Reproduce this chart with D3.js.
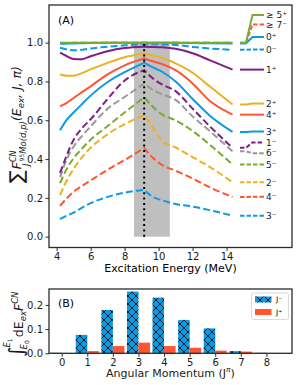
<!DOCTYPE html>
<html>
<head>
<meta charset="utf-8">
<script src="https://cdn.jsdelivr.net/npm/d3@7"></script>
<style>
  body { margin: 0; background: #fff; }
  svg { display: block; font-family: "DejaVu Sans", sans-serif; }
</style>
</head>
<body>
<div id="chart"></div>
<script>
// ---- Panel A data: cumulative fraction vs excitation energy (MeV) ----
const energies = [4.2, 4.6, 5, 5.5, 6, 7, 8, 9.15, 9.6, 10.2, 11, 12, 13, 14.35];
const peakIndex = 7;   // kink at the neutron separation energy

const ge5p = [1, 1, 1, 1, 1, 1, 1, 1, 1, 1, 1, 1, 1, 1];
const ge7m = [0.998, 0.998, 0.999, 0.999, 0.999, 1, 1, 1, 1, 1, 1, 1, 1, 1];
const j0p  = [0.994, 0.995, 0.996, 0.997, 0.998, 0.999, 0.999, 1, 1, 1, 0.999, 0.998, 0.997, 0.996];
const j0m  = [0.974, 0.965, 0.961, 0.963, 0.970, 0.979, 0.986, 0.992, 0.992, 0.991, 0.988, 0.978, 0.970, 0.963];
const j1p  = [0.948, 0.930, 0.916, 0.915, 0.930, 0.956, 0.972, 0.979, 0.978, 0.976, 0.968, 0.945, 0.910, 0.861];
const j2p  = [0.836, 0.830, 0.830, 0.843, 0.862, 0.896, 0.925, 0.944, 0.935, 0.922, 0.893, 0.845, 0.775, 0.681];
const j4p  = [0.672, 0.690, 0.715, 0.745, 0.775, 0.836, 0.883, 0.918, 0.905, 0.890, 0.858, 0.790, 0.700, 0.629];
const j3p  = [0.548, 0.603, 0.640, 0.684, 0.727, 0.797, 0.848, 0.896, 0.875, 0.850, 0.800, 0.710, 0.625, 0.540];
const j1m  = [0.328, 0.420, 0.500, 0.560, 0.605, 0.710, 0.805, 0.858, 0.820, 0.785, 0.750, 0.660, 0.570, 0.458];
const j6m  = [0.307, 0.400, 0.465, 0.520, 0.568, 0.660, 0.720, 0.790, 0.760, 0.735, 0.705, 0.620, 0.545, 0.440];
const j5m  = [0.276, 0.350, 0.405, 0.455, 0.500, 0.570, 0.640, 0.718, 0.675, 0.630, 0.600, 0.545, 0.475, 0.372];
const j2m  = [0.215, 0.290, 0.350, 0.410, 0.458, 0.528, 0.580, 0.627, 0.570, 0.495, 0.460, 0.410, 0.360, 0.280];
const j4m  = [0.159, 0.198, 0.232, 0.262, 0.290, 0.345, 0.395, 0.457, 0.412, 0.370, 0.340, 0.300, 0.255, 0.205];
const j3m  = [0.091, 0.108, 0.124, 0.150, 0.173, 0.205, 0.227, 0.241, 0.208, 0.188, 0.168, 0.155, 0.137, 0.108];

const spinLabels = ["≥ 5⁺", "≥ 7⁻", "0⁺", "0⁻", "1⁺", "2⁺", "4⁺", "3⁺", "1⁻", "6⁻", "5⁻", "2⁻", "4⁻", "3⁻"];

// shaded window and separation energy
const bandRange = [8.55, 10.66];
const sepEnergy = 9.15;

// ---- Panel B data: integrated fraction per angular momentum ----
const spins = [0, 1, 2, 3, 4, 5, 6, 7, 8];
const negParity = [0.002, 0.076, 0.179, 0.255, 0.230, 0.138, 0.103, 0.009, 0.002];
const posParity = [0.0005, 0.009, 0.030, 0.044, 0.030, 0.023, 0.011, 0.007, 0.0005];

// colours
const cBlue = "#0c9ae0", cRed = "#ff5533", cYellow = "#edb120",
      cPurple = "#7e1f86", cGreen = "#77ac30", cGray = "#999999";

// series table (top of legend to bottom); label slot = legend text position
const series = [
  {v: ge5p, color: cGreen,  dash: false, slot: 1.143},
  {v: ge7m, color: cRed,    dash: true,  slot: 1.094},
  {v: j0p,  color: cBlue,   dash: false, slot: 1.029},
  {v: j0m,  color: cBlue,   dash: true,  slot: 0.965},
  {v: j1p,  color: cPurple, dash: false, slot: 0.861},
  {v: j2p,  color: cYellow, dash: false, slot: 0.686},
  {v: j4p,  color: cRed,    dash: false, slot: 0.629},
  {v: j3p,  color: cBlue,   dash: false, slot: 0.542},
  {v: j1m,  color: cPurple, dash: true,  slot: 0.486},
  {v: j6m,  color: cGray,   dash: true,  slot: 0.430},
  {v: j5m,  color: cGreen,  dash: true,  slot: 0.372},
  {v: j2m,  color: cYellow, dash: true,  slot: 0.280},
  {v: j4m,  color: cRed,    dash: true,  slot: 0.206},
  {v: j3m,  color: cBlue,   dash: true,  slot: 0.108}
];
series.forEach((s, i) => s.label = spinLabels[i]);

const W = 298, H = 385;
const svg = d3.select("#chart").append("svg")
  .attr("width", W).attr("height", H);

const frameColor = "#2b2b2b";

// ================= Panel A =================
const A = {left: 49, right: 292, top: 5, bottom: 247.5};
const x = d3.scaleLinear().domain([3.55, 17.85]).range([A.left, A.right]);
const y = d3.scaleLinear().domain([-0.0557, 1.194]).range([A.bottom, A.top]);

const gA = svg.append("g");

// grey band + dotted line
gA.append("rect")
  .attr("x", x(bandRange[0])).attr("width", x(bandRange[1]) - x(bandRange[0]))
  .attr("y", y(1)).attr("height", y(0) - y(1))
  .attr("fill", "#bfbfbf");

const line = d3.line().x(d => x(d[0])).y(d => y(d[1])).curve(d3.curveMonotoneX);

// draw from the bottom of the legend upward so the top curves sit above
series.slice().reverse().forEach(s => {
  const pts = energies.map((e, i) => [e, s.v[i]]);
  const pre = pts.slice(0, peakIndex + 1);
  const post = pts.slice(peakIndex);
  const d = line(pre) + line(post).replace(/^M/, "L");
  gA.append("path")
    .attr("d", d)
    .attr("fill", "none")
    .attr("stroke", s.color)
    .attr("stroke-width", 2)
    .attr("stroke-dasharray", s.dash ? "7,3.2" : null);
});

gA.append("line")
  .attr("x1", x(sepEnergy)).attr("x2", x(sepEnergy))
  .attr("y1", y(0)).attr("y2", y(1))
  .attr("stroke", "#000").attr("stroke-width", 2)
  .attr("stroke-dasharray", "2,3.3");

// right-hand labels: short leader lines from the curve end to the label slot
const lx0 = 240, lx1 = 246, lx2 = 252.5, lx3 = 264;
series.slice().reverse().forEach(s => {
  const yEnd = y(s.v[s.v.length - 1]);
  const ySlot = y(s.slot);
  gA.append("path")
    .attr("d", `M${lx0},${yEnd}L${lx1},${yEnd}L${lx2},${ySlot}L${lx3},${ySlot}`)
    .attr("fill", "none")
    .attr("stroke", s.color)
    .attr("stroke-width", 2)
    .attr("stroke-dasharray", s.dash ? "4.5,2" : null);
  gA.append("text")
    .attr("x", 266).attr("y", ySlot).attr("dy", "0.35em")
    .attr("font-size", 9).attr("fill", "#1a1a1a")
    .text(s.label);
});

// axes
const xAxisA = d3.axisBottom(x).tickValues([4, 6, 8, 10, 12, 14])
  .tickFormat(d3.format("d")).tickSize(3.5).tickPadding(1.5);
const yAxisA = d3.axisLeft(y).tickValues([0, 0.2, 0.4, 0.6, 0.8, 1.0])
  .tickFormat(d3.format(".1f")).tickSize(3.5).tickPadding(2.5);

function styleAxis(g) {
  g.select(".domain").remove();
  g.selectAll(".tick line").attr("stroke", frameColor).attr("stroke-width", 1);
  g.selectAll(".tick text").attr("font-size", 10).attr("fill", "#1a1a1a")
    .attr("font-family", "DejaVu Sans");
}
gA.append("g").attr("transform", `translate(0,${A.bottom})`).call(xAxisA).call(styleAxis);
gA.append("g").attr("transform", `translate(${A.left},0)`).call(yAxisA).call(styleAxis);

gA.append("rect")
  .attr("x", A.left).attr("y", A.top)
  .attr("width", A.right - A.left).attr("height", A.bottom - A.top)
  .attr("fill", "none").attr("stroke", frameColor).attr("stroke-width", 1.3);

gA.append("text").attr("x", 58).attr("y", 24).attr("font-size", 11).text("(A)");

gA.append("text")
  .attr("x", (A.left + A.right) / 2).attr("y", 272)
  .attr("text-anchor", "middle").attr("font-size", 11)
  .text("Excitation Energy (MeV)");

// y label A (rotated math expression)
const yl = gA.append("text")
  .attr("transform", "translate(21,183) rotate(-90)")
  .attr("font-size", 12.5).attr("fill", "#1a1a1a");
yl.append("tspan").attr("font-size", 19).attr("dy", 2).text("∑");
yl.append("tspan").attr("font-style", "italic").attr("dx", 1).attr("dy", -2).text("F");
yl.append("tspan").attr("font-style", "italic").attr("font-size", 8).attr("dy", -5).text("CN");
yl.append("tspan").attr("font-size", 6).attr("dx", -11).attr("dy", 8).text("95");
yl.append("tspan").attr("font-style", "italic").attr("font-size", 8.5).attr("dy", 2).text("Mo(d,p)");
yl.append("tspan").attr("font-style", "italic").attr("dy", -5).text("(E");
yl.append("tspan").attr("font-style", "italic").attr("font-size", 8.5).attr("dy", 3).text("ex");
yl.append("tspan").attr("font-style", "italic").attr("dy", -3).text(", J, π)");
gA.append("text")
  .attr("transform", "translate(29,166) rotate(-90)")
  .attr("font-size", 8.5).attr("font-style", "italic").attr("fill", "#1a1a1a")
  .text("J");

// ================= Panel B =================
const B = {left: 49, right: 292, top: 289, bottom: 353.3};
const xb = d3.scaleLinear().domain([-0.496, 9.0]).range([B.left, B.right]);
const yb = d3.scaleLinear().domain([0, 0.2657]).range([B.bottom, B.top]);
const barW = 0.45;

const defs = svg.append("defs");
const pat = defs.append("pattern").attr("id", "hatchX")
  .attr("patternUnits", "userSpaceOnUse").attr("width", 8).attr("height", 8);
pat.append("rect").attr("width", 8).attr("height", 8).attr("fill", cBlue);
pat.append("path").attr("d", "M0,0L8,8M8,0L0,8M-1,7L1,9M7,-1L9,1M-1,1L1,-1M7,9L9,7")
  .attr("stroke", "#000").attr("stroke-width", 0.8);

const gB = svg.append("g");
gB.selectAll("rect.neg").data(spins).join("rect").attr("class", "neg")
  .attr("x", d => xb(d - barW)).attr("width", xb(barW) - xb(0))
  .attr("y", (d, i) => yb(negParity[i]))
  .attr("height", (d, i) => yb(0) - yb(negParity[i]))
  .attr("fill", "url(#hatchX)");
gB.selectAll("rect.pos").data(spins).join("rect").attr("class", "pos")
  .attr("x", d => xb(d)).attr("width", xb(barW) - xb(0))
  .attr("y", (d, i) => yb(posParity[i]))
  .attr("height", (d, i) => yb(0) - yb(posParity[i]))
  .attr("fill", cRed);

const xAxisB = d3.axisBottom(xb).tickValues(spins).tickFormat(d3.format("d"))
  .tickSize(3.5).tickPadding(2);
const yAxisB = d3.axisLeft(yb).tickValues([0, 0.1, 0.2]).tickFormat(d3.format(".1f"))
  .tickSize(3.5).tickPadding(2.5);
gB.append("g").attr("transform", `translate(0,${B.bottom})`).call(xAxisB).call(styleAxis);
gB.append("g").attr("transform", `translate(${B.left},0)`).call(yAxisB).call(styleAxis);

gB.append("rect")
  .attr("x", B.left).attr("y", B.top)
  .attr("width", B.right - B.left).attr("height", B.bottom - B.top)
  .attr("fill", "none").attr("stroke", frameColor).attr("stroke-width", 1.3);

gB.append("text").attr("x", 58).attr("y", 307).attr("font-size", 11).text("(B)");

// legend B
const lg = gB.append("g");
lg.append("rect").attr("x", 251.5).attr("y", 293).attr("width", 37).attr("height", 26.5)
  .attr("rx", 2).attr("fill", "#fff").attr("fill-opacity", 0.8)
  .attr("stroke", "#d0d0d0").attr("stroke-width", 0.8);
lg.append("rect").attr("x", 255).attr("y", 296.5).attr("width", 16.5).attr("height", 6)
  .attr("fill", "url(#hatchX)");
lg.append("rect").attr("x", 255).attr("y", 309).attr("width", 16.5).attr("height", 6)
  .attr("fill", cRed);
lg.append("text").attr("x", 276).attr("y", 302).attr("font-size", 7.5).text("J⁻");
lg.append("text").attr("x", 276).attr("y", 314.5).attr("font-size", 7.5).text("J⁺");

// x label B
const xlB = gB.append("text")
  .attr("x", (B.left + B.right) / 2).attr("y", 377)
  .attr("text-anchor", "middle").attr("font-size", 11).attr("fill", "#1a1a1a");
xlB.append("tspan").text("Angular Momentum (J");
xlB.append("tspan").attr("font-size", 7.5).attr("font-style", "italic").attr("dy", -5).text("π");
xlB.append("tspan").attr("dy", 5).text(")");

// y label B
const ylB = gB.append("text")
  .attr("transform", "translate(23,357) rotate(-90)")
  .attr("font-size", 12.5).attr("fill", "#1a1a1a");
ylB.append("tspan").attr("font-size", 20).text("∫");
ylB.append("tspan").attr("font-style", "italic").attr("font-size", 8.5).attr("dx", -1).attr("dy", -13).text("E");
ylB.append("tspan").attr("font-size", 6).attr("dy", 2).text("1");
ylB.append("tspan").attr("font-style", "italic").attr("font-size", 8.5).attr("dx", -11).attr("dy", 15).text("E");
ylB.append("tspan").attr("font-size", 6).attr("dy", 2).text("0");
ylB.append("tspan").attr("dx", 3).attr("dy", -6).text("dE");
ylB.append("tspan").attr("font-style", "italic").attr("font-size", 8.5).attr("dy", 3).text("ex");
ylB.append("tspan").attr("font-style", "italic").attr("dy", -3).text("F");
ylB.append("tspan").attr("font-style", "italic").attr("font-size", 8.5).attr("dy", -5).text("CN");
</script>
</body>
</html>
